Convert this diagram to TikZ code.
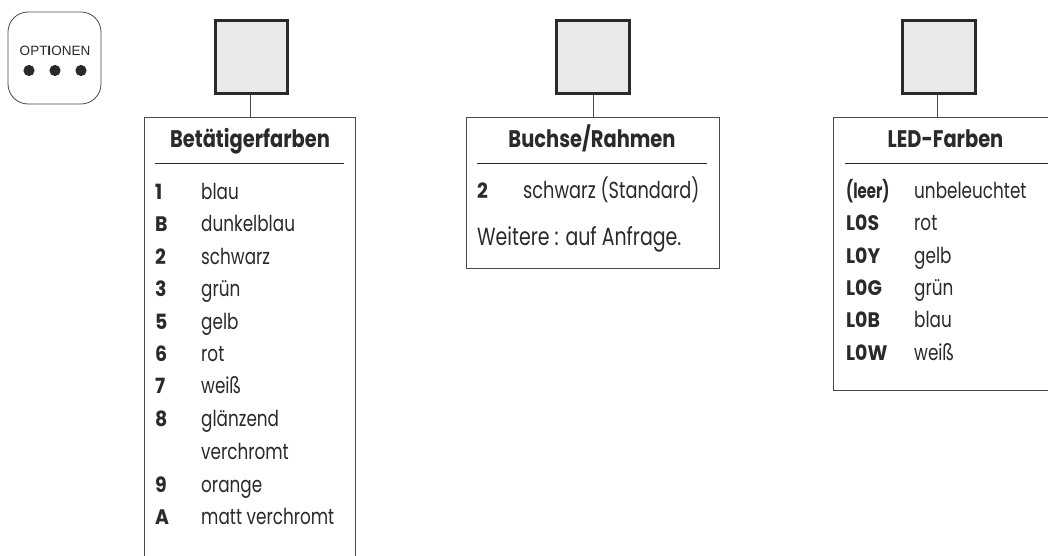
\documentclass[tikz,border=0pt]{standalone}
\usepackage{fontspec}
\setmainfont[FakeStretch=0.765]{Poppins}
\newfontfamily\hdfont[FakeStretch=0.81]{Poppins Bold}
\newfontfamily\keyfont[FakeStretch=0.9]{Poppins Bold}
\newfontfamily\leerfont[FakeStretch=0.71]{Poppins Bold}
\newfontfamily\optfont{Liberation Sans}
\definecolor{boxline}{HTML}{4A4A4A}
\definecolor{inkc}{HTML}{2A2A2A}
\definecolor{sqfill}{HTML}{E9E9E9}
\tikzset{
  x=1pt,y=-1pt,
  sq/.style={draw=inkc,line width=3pt,fill=sqfill,minimum size=72.5pt,inner sep=0pt,outer sep=1.5pt},
  panel/.style={draw=boxline,line width=1pt,inner sep=0pt,outer sep=0pt,fill=white},
  link/.style={draw=boxline,line width=1pt},
  sep/.style={draw=inkc,line width=.7pt},
  hd/.style={font=\hdfont\fontsize{24}{28}\selectfont,text=inkc,inner sep=0pt,anchor=base},
  key/.style={font=\keyfont\fontsize{21}{25}\selectfont,text=inkc,inner sep=0pt,anchor=base west},
  leer/.style={font=\leerfont\fontsize{21}{25}\selectfont,text=inkc,inner sep=0pt,anchor=base west},
  val/.style={font=\fontsize{22}{26}\selectfont,text=inkc,inner sep=0pt,anchor=base west},
}
\begin{document}
\begin{tikzpicture}
\useasboundingbox (0,0) rectangle (1048,556);
% option button
\node[draw=boxline,line width=.8pt,rounded corners=20pt,minimum width=93pt,minimum height=92pt,inner sep=0pt] (opt) at (54.5,58) {};
\node[inner sep=0pt,text=inkc,font=\optfont\fontsize{13.5}{15}\selectfont] (optt) at (55,50.5) {OPT{\bfseries I}ONEN};
\foreach \n/\x in {a/29,b/55,c/81}
  \fill[inkc] (\x,70.5) circle[radius=5.6pt] coordinate (dot\n);
% squares
\node[sq] (s1) at (251.5,57) {};
\node[sq] (s2) at (593,57) {};
\node[sq] (s3) at (939,57) {};
% panels
\node[panel,minimum width=211pt,minimum height=460pt,anchor=north west] (t1) at (144,118) {};
\node[panel,minimum width=253pt,minimum height=150pt,anchor=north west] (t2) at (466.5,118) {};
\node[panel,minimum width=260pt,minimum height=272.5pt,anchor=north west] (t3) at (833,118) {};
% links
\draw[link] ([xshift=-1.5pt]s1.south) -- ([xshift=-1.5pt]s1.south |- t1.north);
\draw[link] (s2.south) -- (s2.south |- t2.north);
\draw[link] ([xshift=-2pt]s3.south) -- ([xshift=-2pt]s3.south |- t3.north);
% headings
\node[hd] (h1) at (250,147.5) {Betätigerfarben};
\node[hd] (h2) at (592,147.5) {Buchse/Rahmen};
\node[hd] (h3) at (945.5,147.5) {LED-Farben};
\draw[sep] (155,163) coordinate (a1) -- (344,163) coordinate (a2);
\draw[sep] (477,163) coordinate (b1) -- (707,163) coordinate (b2);
\draw[sep] (845,163) coordinate (c1) -- (1048,163) coordinate (c2);
% panel 1
\foreach \i/\k/\v/\y in {1/1/blau/199,2/B/dunkelblau/231.5,3/2/schwarz/264,4/3/grün/296.5,5/5/gelb/329,6/6/rot/361,7/7/weiß/393.5,8/8/glänzend/426,10/9/orange/492,11/A/matt verchromt/524}{
  \node[key] (k\i) at (155,\y) {\k};
  \node[val] (v\i) at (201,\y) {\v};
}
\node[val] (v9) at (201,459) {verchromt};
% panel 2
\node[key] (p2k) at (477,198.5) {2};
\node[val,font=\fontsize{23.2}{26}\selectfont] (p2v) at (523,198.5) {schwarz (Standard)};
\node[val,font=\fontsize{24.8}{28}\selectfont] (p2w) at (477,245) {Weitere : auf Anfrage.};
% panel 3
\node[leer] (q1) at (846,198.5) {(leer)};
\node[val] (r1) at (914,198.5) {unbeleuchtet};
\foreach \i/\k/\v/\y in {2/L0S/rot/230.5,3/L0Y/gelb/263,4/L0G/grün/295,5/L0B/blau/327,6/L0W/weiß/360}{
  \node[key] (q\i) at (846,\y) {\k};
  \node[val] (r\i) at (914,\y) {\v};
}
\end{tikzpicture}
\end{document}
